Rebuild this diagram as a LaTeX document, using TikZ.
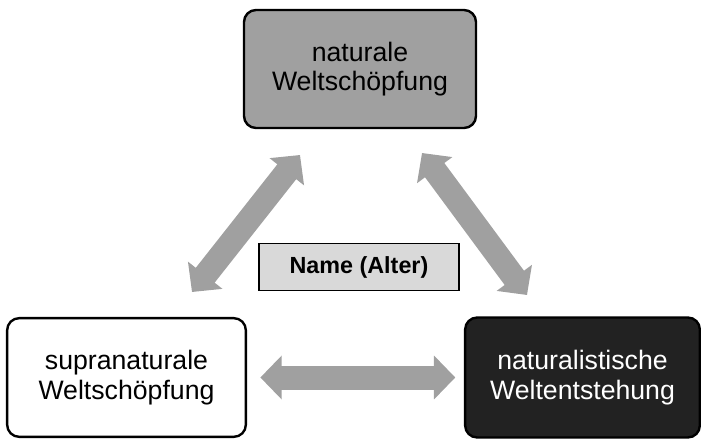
\documentclass[tikz,border=0pt]{standalone}
\usepackage{fontspec}
\setmainfont{Liberation Sans}
\usetikzlibrary{arrows.meta}
\definecolor{boxgray}{HTML}{A0A0A0}
\definecolor{boxdark}{HTML}{222222}
\definecolor{namegray}{HTML}{D9D9D9}
\tikzset{
	bigbox/.style={rectangle,rounded corners=9pt,draw=black,line width=1.8pt,align=center,inner sep=0pt,font=\fontsize{20}{22}\selectfont},
	namebox/.style={rectangle,draw=black,line width=1.1pt,fill=namegray,minimum width=150pt,minimum height=35pt,font=\fontsize{17.5}{20}\selectfont\bfseries},
	bigarrow/.style={draw=boxgray,line width=18pt,{Triangle[length=16pt,width=32pt]}-{Triangle[length=16pt,width=32pt]}}
}
\begin{document}
\begin{tikzpicture}[x=0.75pt,y=-0.75pt]
		\useasboundingbox (0,0) rectangle (701,439);
		\node[bigbox,fill=boxgray,minimum width=174pt,minimum height=88.5pt] (nat) at (360,69) {naturale\\Weltschöpfung};
		\node[bigbox,fill=white,minimum width=179pt,minimum height=89pt] (sup) at (126.5,377.5) {supranaturale\\Weltschöpfung};
		\node[bigbox,fill=boxdark,text=white,minimum width=176pt,minimum height=90pt] (ent) at (582.5,377.5) {naturalistische\\Weltentstehung};
		\node[namebox] (name) at (359,267) {Name (Alter)};
		\coordinate (l1) at (192,292);
		\coordinate (l2) at (300,155);
		\coordinate (r1) at (422,153);
		\coordinate (r2) at (527,295);
		\draw[bigarrow] (l1) -- (l2);
		\draw[bigarrow] (r1) -- (r2);
		\draw[bigarrow,shorten <=10pt,shorten >=6.5pt] (sup.east) -- (ent.west);
	\end{tikzpicture}
\end{document}
